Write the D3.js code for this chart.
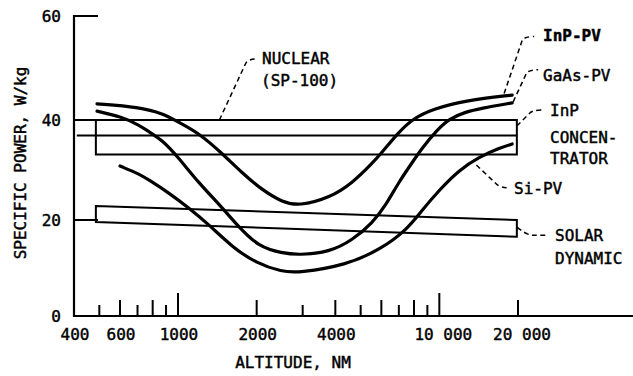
<!DOCTYPE html>
<html>
<head>
<meta charset="utf-8">
<script src="https://cdn.jsdelivr.net/npm/d3@7"></script>
<style>
  body { margin: 0; background: #fff; }
  svg { display: block; }
  text { font-family: 'DejaVu Sans Mono', monospace; font-size: 16px; fill: #000; stroke: #000; stroke-width: 0.45px; }
</style>
</head>
<body>
<script>
// altitude (nm) / specific power (W/kg)
const inpPv = [[490, 43.1], [710, 42.5], [880, 41.2], [1000, 39.6], [1200, 37.4], [1470, 33.4], [1760, 29.4],
  [2100, 26], [2500, 23.6], [2900, 22.8], [3800, 24.4], [4650, 27.4], [5550, 31.4], [6000, 33.4], [7000, 37.6],
  [7900, 40.2], [9400, 42.1], [12700, 43.8], [19000, 44.8]]
const gaasPv = [[490, 41.7], [610, 40.6], [710, 39], [775, 37.6], [870, 36], [1000, 32.6], [1200, 27.4],
  [1470, 22.6], [1710, 18.5], [2040, 14.4], [2500, 13.1], [2900, 12.7], [3800, 13.3], [4650, 15.8], [5550, 19.4],
  [6250, 23], [7000, 27.6], [7900, 31.6], [8600, 34.4], [9800, 38], [10900, 40.2], [12500, 41.5], [14600, 42.3],
  [19000, 43.3]]
const siPv = [[600, 30.8], [710, 29.2], [775, 28], [925, 25.4], [1100, 22.4], [1315, 19], [1610, 14.4],
  [1990, 11], [2500, 9.2], [2900, 9.0], [4400, 10.6], [5900, 13.75], [7500, 17.9], [8600, 22], [10000, 26],
  [11900, 30], [14200, 32.6], [17000, 34.4], [19000, 35.2]]

// bands
const inpConcentrator = [[485, 40], [19800, 40], [19800, 33.1], [485, 33.1]]
const nuclear = [[410, 36.9], [19800, 36.9]]
const solarDynamic = [[485, 22.8], [19800, 20], [19800, 16.5], [485, 19.6]]

// axes
const xTickLabels = [400, 600, 1000, 2000, 4000, 10000, 20000]
const xTicks = [500, 600, 700, 800, 900, 1000, 2000, 3000, 4000, 5000, 6000, 7000, 8000, 9000, 10000, 20000]
const yTicks = [0, 20, 40, 60]

const width = 633, height = 376

const svg = d3.select('body')
  .append('svg')
  .attr('width', width)
  .attr('height', height)

// scales (y is piecewise to follow the printed grid)
const x = d3.scaleLog().domain([400, 20000]).range([74, 518])
const y = d3.scaleLinear().domain([0, 20, 40, 60]).range([316, 220, 120, 16])

// axis lines
svg.append('line')
  .attr('x1', x(400)).attr('x2', width)
  .attr('y1', y(0)).attr('y2', y(0))
  .attr('stroke', '#000').attr('stroke-width', 2.2)

svg.append('line')
  .attr('x1', x(400)).attr('x2', x(400))
  .attr('y1', y(0) + 1).attr('y2', y(60) - 1)
  .attr('stroke', '#000').attr('stroke-width', 2.2)

// x ticks point up from the axis, decades are tallest
const tickLen = v => {
  const lead = v / Math.pow(10, Math.floor(Math.log10(v)))
  if (lead === 1) return 23
  return lead % 2 === 0 ? 16 : 11
}

svg.append('g').selectAll('line')
  .data(xTicks)
  .enter()
  .append('line')
  .attr('x1', d => x(d)).attr('x2', d => x(d))
  .attr('y1', y(0)).attr('y2', d => y(0) - tickLen(d))
  .attr('stroke', '#000').attr('stroke-width', 2)

svg.append('g').selectAll('text')
  .data(xTickLabels)
  .enter()
  .append('text')
  .attr('x', d => x(d) + (d >= 10000 ? 4 : 1))
  .attr('y', 334)
  .attr('text-anchor', 'middle')
  .attr('dominant-baseline', 'central')
  .text(d => d >= 10000 ? d3.format(',')(d).replace(',', ' ') : d)

// y ticks point inward
svg.append('g').selectAll('line')
  .data(yTicks.filter(d => d > 0))
  .enter()
  .append('line')
  .attr('x1', x(400)).attr('x2', x(400) + 24)
  .attr('y1', d => y(d)).attr('y2', d => y(d))
  .attr('stroke', '#000').attr('stroke-width', 2)

svg.append('g').selectAll('text')
  .data(yTicks)
  .enter()
  .append('text')
  .attr('x', 61)
  .attr('y', d => y(d))
  .attr('text-anchor', 'end')
  .attr('dominant-baseline', 'central')
  .text(d => d)

// axis titles
svg.append('text')
  .attr('x', 293)
  .attr('y', 362)
  .attr('text-anchor', 'middle')
  .attr('dominant-baseline', 'central')
  .text('ALTITUDE, NM')

svg.append('text')
  .attr('transform', 'translate(20, 163) rotate(-90)')
  .attr('text-anchor', 'middle')
  .attr('dominant-baseline', 'central')
  .text('SPECIFIC POWER, W/kg')

// bands
const poly = d3.line()
  .x(d => x(d[0]))
  .y(d => y(d[1]))

svg.append('path')
  .attr('d', poly(inpConcentrator) + 'Z')
  .attr('fill', 'none').attr('stroke', '#000').attr('stroke-width', 2)

svg.append('path')
  .attr('d', poly(nuclear))
  .attr('fill', 'none').attr('stroke', '#000').attr('stroke-width', 2)

svg.append('path')
  .attr('d', poly(solarDynamic) + 'Z')
  .attr('fill', 'none').attr('stroke', '#000').attr('stroke-width', 2)

// pv curves, smoothed like the hand-drawn originals
const curve = d3.line()
  .x(d => x(d[0]))
  .y(d => y(d[1]))
  .curve(d3.curveBasis)

svg.append('g').selectAll('path')
  .data([inpPv, gaasPv, siPv])
  .enter()
  .append('path')
  .attr('d', curve)
  .attr('fill', 'none')
  .attr('stroke', '#000')
  .attr('stroke-width', 3.2)
  .attr('stroke-linecap', 'round')

// dashed leaders, anchored to the marks in data units
const leaders = [
  { at: [1440, 40], d: 'M0,0 L26,-56 Q28,-61 38,-61' },
  { at: [17700, 44.7], d: 'M0,-2 L18,-55 Q20,-59 30,-59' },
  { at: [19000, 43.3], d: 'M1,-1 L14,-29 Q16,-33 26,-33' },
  { at: [19800, 38.8], d: 'M0,0 L13,-13 Q16,-16 25,-16' },
  { at: [13860, 31], d: 'M0,0 L20,19 Q24,23 34,23' },
  { at: [19800, 18.5], d: 'M0,0 Q10,8 16,8 L30,8' }
]

svg.append('g').selectAll('path')
  .data(leaders)
  .enter()
  .append('path')
  .attr('transform', d => `translate(${x(d.at[0])}, ${y(d.at[1])})`)
  .attr('d', d => d.d)
  .attr('fill', 'none')
  .attr('stroke', '#000')
  .attr('stroke-width', 1.5)
  .attr('stroke-dasharray', '5,3.5')

// labels
const labels = [
  { text: 'NUCLEAR', x: 262, y: 58 },
  { text: '(SP-100)', x: 261, y: 80 },
  { text: 'InP-PV', x: 543, y: 35, bold: true },
  { text: 'GaAs-PV', x: 543, y: 75 },
  { text: 'InP', x: 550, y: 110 },
  { text: 'CONCEN-', x: 550, y: 137 },
  { text: 'TRATOR', x: 550, y: 158 },
  { text: 'Si-PV', x: 514, y: 188 },
  { text: 'SOLAR', x: 555, y: 235 },
  { text: 'DYNAMIC', x: 555, y: 258 }
]

svg.append('g').selectAll('text')
  .data(labels)
  .enter()
  .append('text')
  .attr('x', d => d.x)
  .attr('y', d => d.y)
  .attr('dominant-baseline', 'central')
  .attr('font-weight', d => d.bold ? 'bold' : 'normal')
  .text(d => d.text)
</script>
</body>
</html>
